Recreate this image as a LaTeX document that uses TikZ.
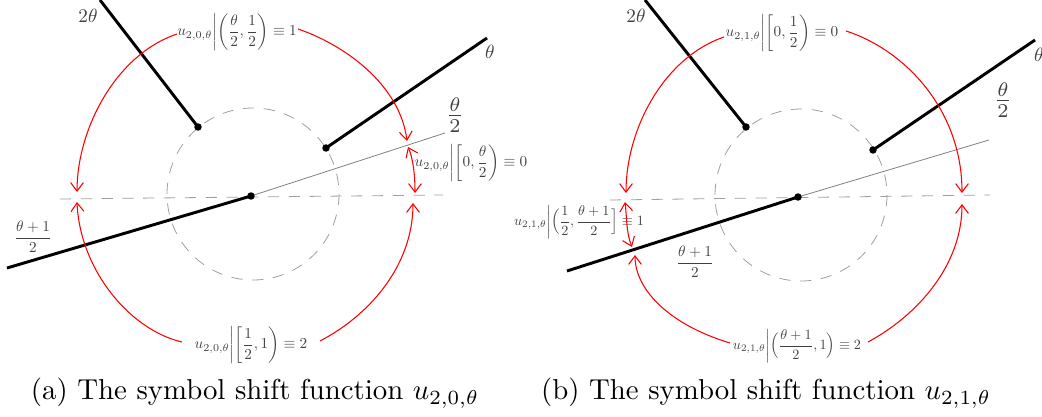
\documentclass[tikz,border=0pt]{standalone}
\usepackage{amsmath}
\usetikzlibrary{arrows.meta}
\begin{document}
\begin{tikzpicture}[x=0.375pt,y=-0.375pt,
  thickline/.style={line width=1.1pt, black},
  dashline/.style={gray!75, line width=0.3pt, dash pattern=on 4.2pt off 3.6pt},
  rayline/.style={gray, line width=0.3pt},
  dotc/.style={circle, fill=black, inner sep=0pt, minimum size=2.8pt},
  redarr/.style={red, line width=0.4pt, -{Straight Barb[length=3.2pt,width=4.8pt]}},
  redboth/.style={red, line width=0.4pt, {Straight Barb[length=3.2pt,width=4.8pt]}-{Straight Barb[length=3.2pt,width=4.8pt]}},
  ulab/.style={scale=0.57, text=black!75, inner sep=0pt},
  anglab/.style={scale=0.72, text=black!75, inner sep=0pt},
  halflab/.style={scale=1.05, text=black!75, inner sep=0pt},
  caplab/.style={scale=1.08, text=black, inner sep=0pt}
]
\useasboundingbox (0,0) rectangle (1042,417);

% ================= panel (a) =================
\coordinate (Oa) at (251,196);
\coordinate (Ca) at (253,194);
\coordinate (hLa) at (60,199);
\coordinate (hRa) at (443,195);
\coordinate (rEa) at (445,133);
\coordinate (tSa) at (326,148);
\coordinate (tEa) at (487,38);
\coordinate (dSa) at (198,127);
\coordinate (dEa) at (100,0);
\coordinate (pEa) at (7,268);

\draw[dashline] (hLa) -- (hRa);
\draw[dashline] (Ca) circle[radius=86];
\draw[rayline] (Oa) -- (rEa);
\draw[thickline] (tSa) -- (tEa);
\draw[thickline] (dSa) -- (dEa);
\draw[thickline] (Oa) -- (pEa);
\node[dotc] (dotOa) at (Oa) {};
\node[dotc] (dotTa) at (tSa) {};
\node[dotc] (dotDa) at (dSa) {};

\node[anglab] (a2t) at (88,16) {$2\theta$};
\node[anglab] (at) at (490,52) {$\theta$};
\node[halflab] (ah) at (455,115) {$\frac{\theta}{2}$};
\node[ulab] (afr) at (33,237) {$\dfrac{\theta+1}{2}$};

\node[ulab] (ta) at (237,32) {$\displaystyle u_{2,0,\theta}\biggl|\biggl(\frac{\theta}{2},\frac{1}{2}\biggr)\equiv 1$};
\node[ulab] (ra) at (471,163) {$\displaystyle u_{2,0,\theta}\biggl|\biggl[0,\frac{\theta}{2}\biggr)\equiv 0$};
\node[ulab] (ba) at (251,345) {$\displaystyle u_{2,0,\theta}\biggl|\biggl[\frac{1}{2},1\biggr)\equiv 2$};

\coordinate (taL) at (177,34);
\coordinate (taR) at (298,29);
\coordinate (baL) at (182,342);
\coordinate (baR) at (320,341);
\coordinate (tipA1) at (77,192);
\coordinate (tipA2) at (407,141);
\coordinate (tipA3) at (77,202);
\coordinate (tipA4) at (413,203);
\coordinate (tipA5) at (408,147);
\coordinate (tipA6) at (415,193);

\draw[redarr] (taL) .. controls (115,55) and (77,130) .. (tipA1);
\draw[redarr] (taR) .. controls (345,45) and (400,85) .. (tipA2);
\draw[redarr] (baL) .. controls (130,330) and (80,270) .. (tipA3);
\draw[redarr] (baR) .. controls (370,315) and (413,265) .. (tipA4);
\draw[redboth] (tipA5) .. controls (413,158) and (415,175) .. (tipA6);

\node[caplab] (capa) at (255,393) {(a) The symbol shift function $u_{2,0,\theta}$};

% ================= panel (b) =================
\coordinate (Ob) at (798,197);
\coordinate (Cb) at (801,195);
\coordinate (hLb) at (610,200);
\coordinate (hRb) at (990,195);
\coordinate (rEb) at (989,140);
\coordinate (tSb) at (873,150);
\coordinate (tEb) at (1035,40);
\coordinate (dSb) at (746,127);
\coordinate (dEb) at (645,0);
\coordinate (pEb) at (567,271);

\draw[dashline] (hLb) -- (hRb);
\draw[dashline] (Cb) circle[radius=86];
\draw[rayline] (Ob) -- (rEb);
\draw[thickline] (tSb) -- (tEb);
\draw[thickline] (dSb) -- (dEb);
\draw[thickline] (Ob) -- (pEb);
\node[dotc] (dotOb) at (Ob) {};
\node[dotc] (dotTb) at (tSb) {};
\node[dotc] (dotDb) at (dSb) {};

\node[anglab] (b2t) at (636,16) {$2\theta$};
\node[anglab] (bt) at (1039,55) {$\theta$};
\node[halflab] (bh) at (1003,100) {$\frac{\theta}{2}$};
\node[ulab] (bfr) at (695,262) {$\dfrac{\theta+1}{2}$};

\node[ulab] (tb) at (782,33) {$\displaystyle u_{2,1,\theta}\biggl|\biggl[0,\frac{1}{2}\biggr)\equiv 0$};
\node[ulab, scale=0.93] (lb) at (579,222) {$\displaystyle u_{2,1,\theta}\biggl|\Bigl(\frac{1}{2},\frac{\theta+1}{2}\Bigr]\equiv 1$};
\node[ulab, scale=0.93] (bb) at (797,346) {$\displaystyle u_{2,1,\theta}\biggl|\Bigl(\frac{\theta+1}{2},1\Bigr)\equiv 2$};

\coordinate (tbL) at (724,37);
\coordinate (tbR) at (846,31);
\coordinate (bbL) at (730,343);
\coordinate (bbR) at (868,342);
\coordinate (tipB1) at (626,193);
\coordinate (tipB2) at (962,193);
\coordinate (tipB3) at (635,255);
\coordinate (tipB4) at (962,204);
\coordinate (tipB5) at (625,202);
\coordinate (tipB6) at (632,247);

\draw[redarr] (tbL) .. controls (663,58) and (626,130) .. (tipB1);
\draw[redarr] (tbR) .. controls (905,50) and (962,110) .. (tipB2);
\draw[redarr] (bbL) .. controls (670,325) and (635,290) .. (tipB3);
\draw[redarr] (bbR) .. controls (918,315) and (962,265) .. (tipB4);
\draw[redboth] (tipB5) .. controls (627,218) and (626,232) .. (tipB6);

\node[caplab] (capb) at (766,393) {(b) The symbol shift function $u_{2,1,\theta}$};
\end{tikzpicture}
\end{document}
